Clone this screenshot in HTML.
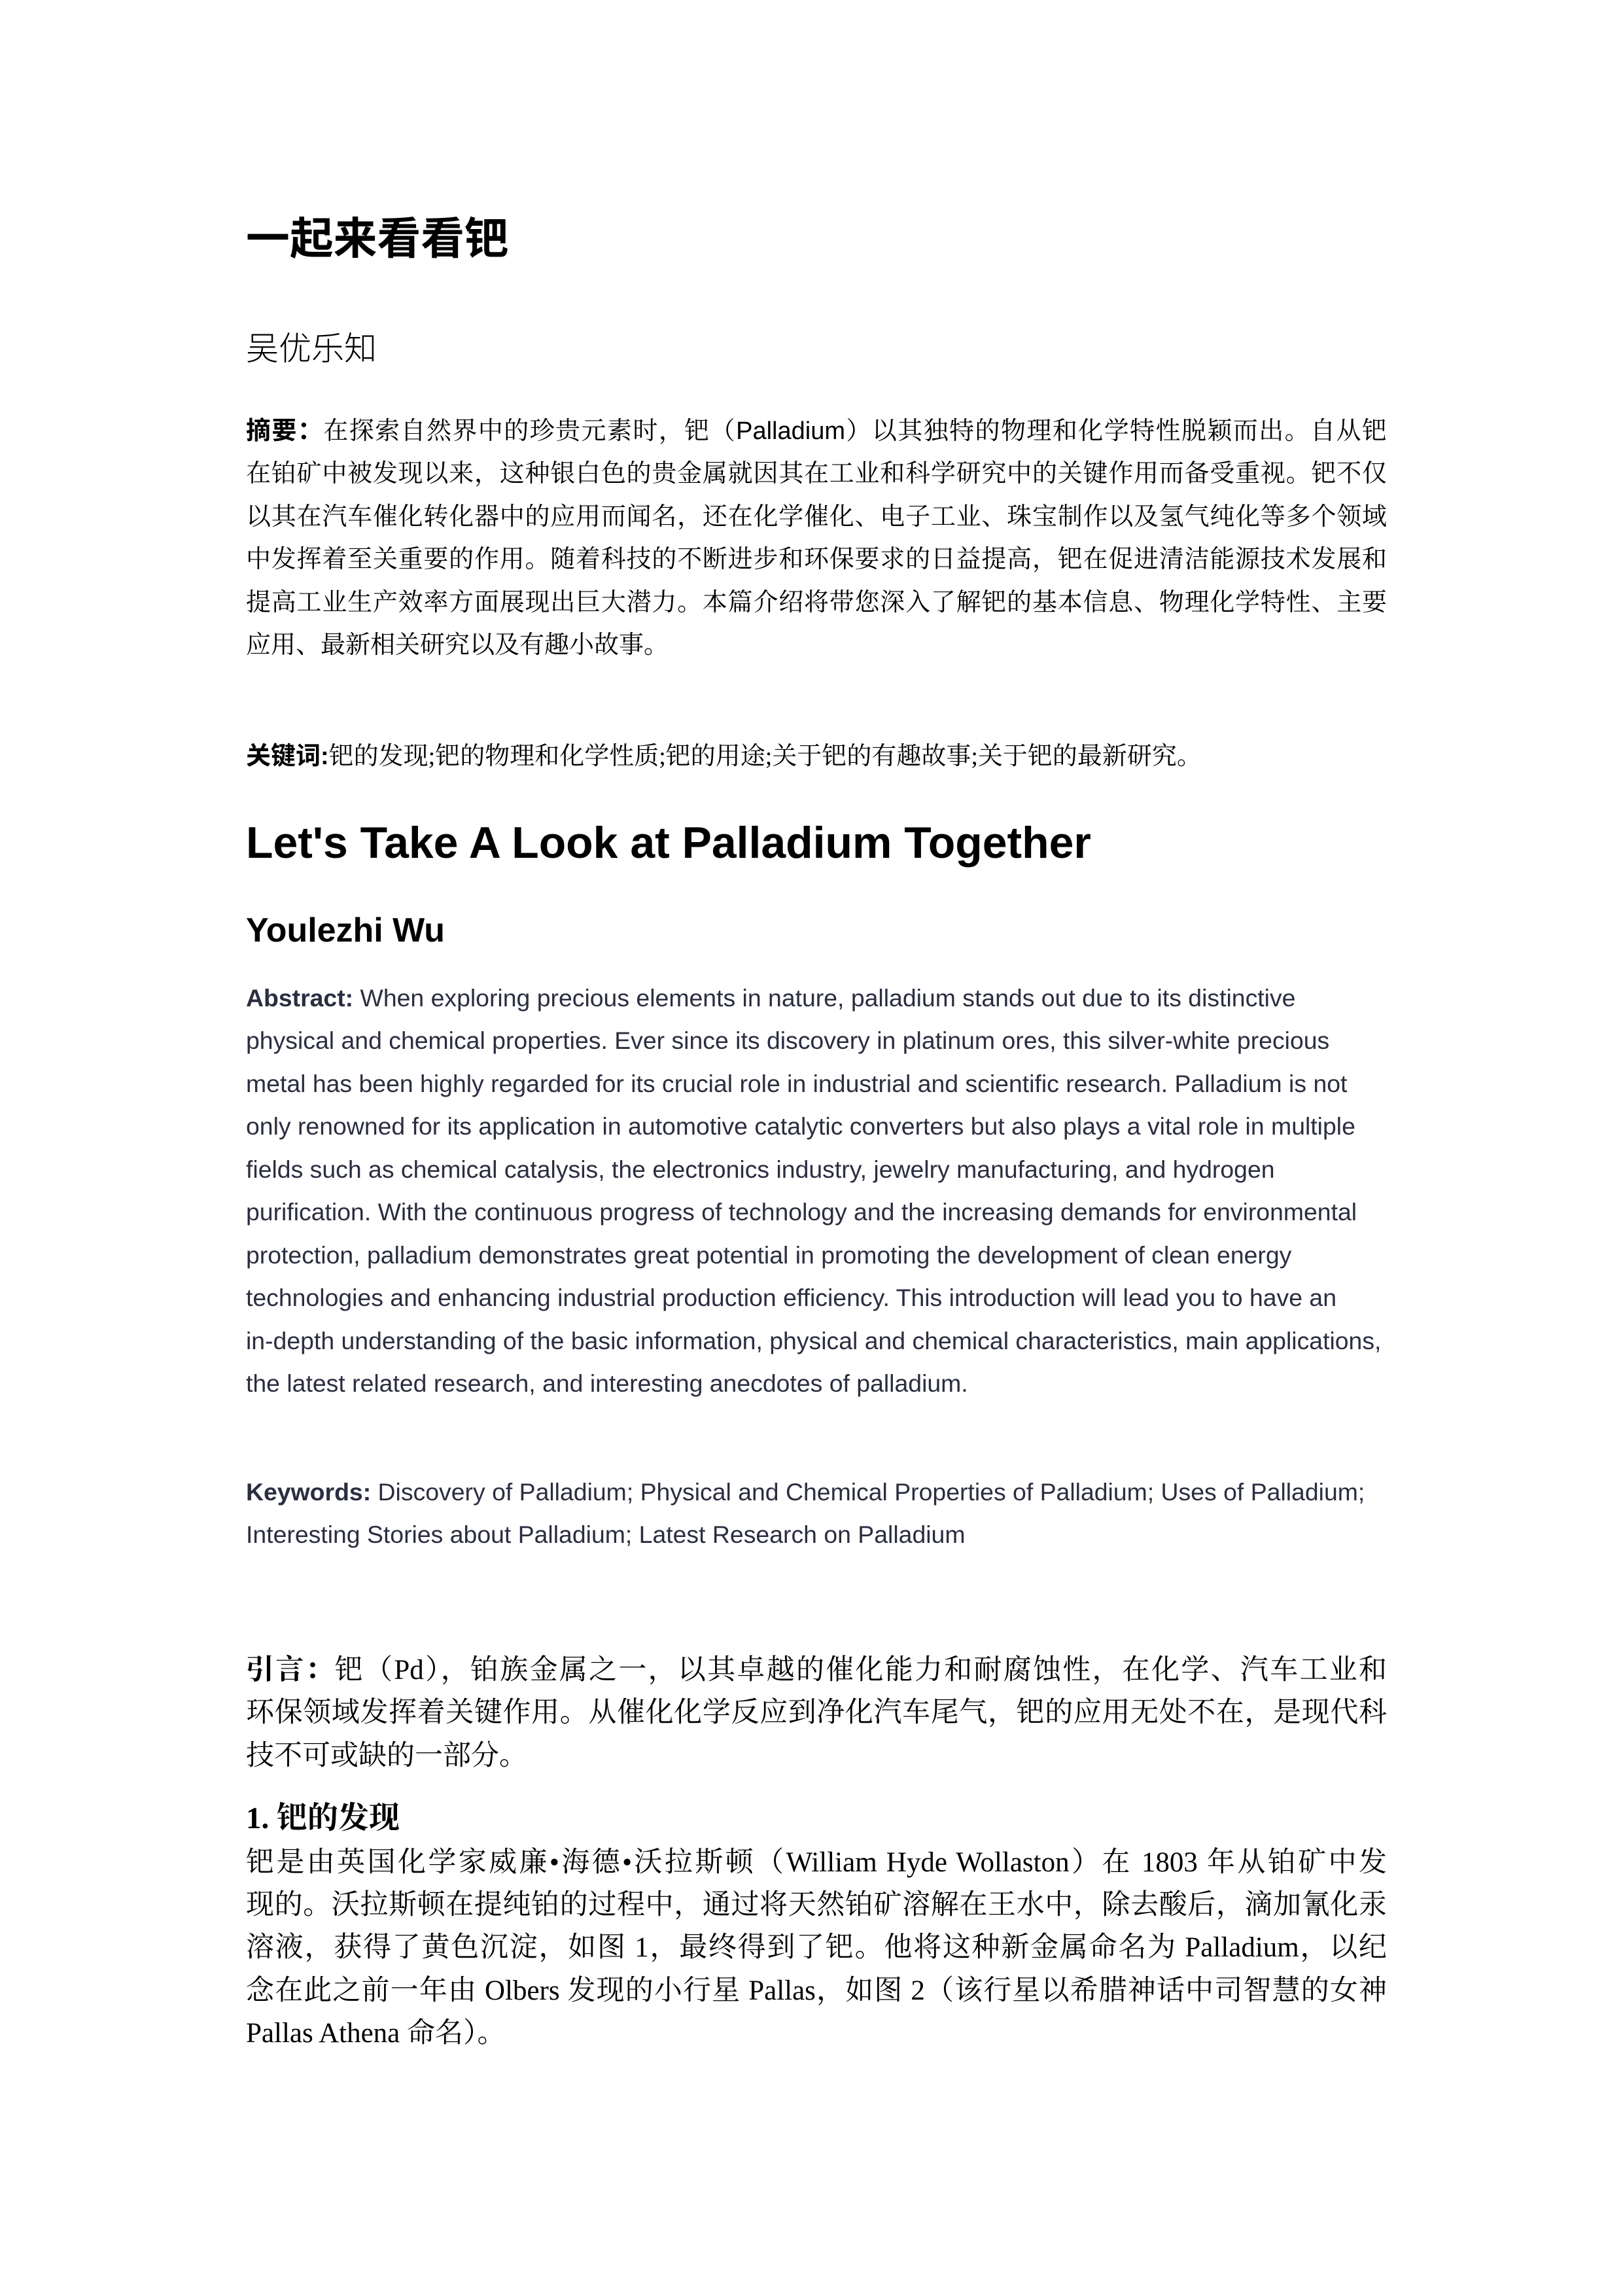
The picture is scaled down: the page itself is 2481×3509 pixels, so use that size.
<!DOCTYPE html>
<html><head><meta charset="utf-8">
<style>
html,body{margin:0;padding:0;background:#fff;}
body{width:2481px;height:3509px;position:relative;overflow:hidden;}
.l{position:absolute;left:376px;white-space:nowrap;height:60px;line-height:60px;}
.j{width:1744px;text-align:justify;text-align-last:justify;}
.cn{font-family:"Liberation Serif","Noto Serif CJK SC",serif;color:#000;}
.sans{font-family:"Liberation Sans","Noto Sans CJK SC",sans-serif;}
.en{font-family:"Liberation Sans",sans-serif;color:#2b2d40;font-size:37.4px;}
.ab{font-size:38px;}
.bd{font-size:43px;}
b{font-weight:bold;}
</style></head>
<body>
<div class="l sans" data-w="401" style="top:336px;font-size:66px;font-weight:bold;color:#000;">一起来看看钯</div>
<div class="l cn" data-w="200" style="top:503px;font-size:50px;font-family:'Liberation Sans','Noto Sans CJK SC',sans-serif;font-weight:300;">吴优乐知</div>

<div>
<div class="l cn ab j" style="top:629px;"><b class="sans">摘要：</b>在探索自然界中的珍贵元素时，钯（<span class="sans">Palladium</span>）以其独特的物理和化学特性脱颖而出。自从钯</div>
<div class="l cn ab j" style="top:694px;">在铂矿中被发现以来，这种银白色的贵金属就因其在工业和科学研究中的关键作用而备受重视。钯不仅</div>
<div class="l cn ab j" style="top:760px;">以其在汽车催化转化器中的应用而闻名，还在化学催化、电子工业、珠宝制作以及氢气纯化等多个领域</div>
<div class="l cn ab j" style="top:825px;">中发挥着至关重要的作用。随着科技的不断进步和环保要求的日益提高，钯在促进清洁能源技术发展和</div>
<div class="l cn ab j" style="top:891px;">提高工业生产效率方面展现出巨大潜力。本篇介绍将带您深入了解钯的基本信息、物理化学特性、主要</div>
<div class="l cn ab" style="top:956px;">应用、最新相关研究以及有趣小故事。</div>
</div>
<div class="l cn ab" style="top:1126px;"><b class="sans">关键词:</b>钯的发现;钯的物理和化学性质;钯的用途;关于钯的有趣故事;关于钯的最新研究。</div>

<div class="l sans" data-w="1292" style="top:1259px;font-size:66px;font-weight:bold;color:#000;">Let's Take A Look at Palladium Together</div>
<div class="l sans" data-w="304" style="top:1392px;font-size:48px;font-weight:bold;color:#000;">Youlezhi Wu</div>

<div>
<div class="l en" style="top:1495px;"><b>Abstract:</b> When exploring precious elements in nature, palladium stands out due to its distinctive</div>
<div class="l en" style="top:1560px;">physical and chemical properties. Ever since its discovery in platinum ores, this silver-white precious</div>
<div class="l en" style="top:1626px;">metal has been highly regarded for its crucial role in industrial and scientific research. Palladium is not</div>
<div class="l en" style="top:1691px;">only renowned for its application in automotive catalytic converters but also plays a vital role in multiple</div>
<div class="l en" style="top:1757px;">fields such as chemical catalysis, the electronics industry, jewelry manufacturing, and hydrogen</div>
<div class="l en" style="top:1822px;">purification. With the continuous progress of technology and the increasing demands for environmental</div>
<div class="l en" style="top:1888px;">protection, palladium demonstrates great potential in promoting the development of clean energy</div>
<div class="l en" style="top:1953px;">technologies and enhancing industrial production efficiency. This introduction will lead you to have an</div>
<div class="l en" style="top:2019px;">in-depth understanding of the basic information, physical and chemical characteristics, main applications,</div>
<div class="l en" style="top:2084px;">the latest related research, and interesting anecdotes of palladium.</div>
</div>
<div>
<div class="l en" style="top:2250px;"><b>Keywords:</b> Discovery of Palladium; Physical and Chemical Properties of Palladium; Uses of Palladium;</div>
<div class="l en" style="top:2315px;">Interesting Stories about Palladium; Latest Research on Palladium</div>
</div>

<div>
<div class="l cn bd j" style="top:2523px;"><b>引言：</b>钯（Pd），铂族金属之一，以其卓越的催化能力和耐腐蚀性，在化学、汽车工业和</div>
<div class="l cn bd j" style="top:2588px;">环保领域发挥着关键作用。从催化化学反应到净化汽车尾气，钯的应用无处不在，是现代科</div>
<div class="l cn bd" style="top:2654px;">技不可或缺的一部分。</div>
</div>
<div class="l cn" style="top:2749px;font-size:47px;font-weight:bold;">1. 钯的发现</div>
<div>
<div class="l cn bd j" style="top:2817px;">钯是由英国化学家威廉•海德•沃拉斯顿（William Hyde Wollaston）在 1803 年从铂矿中发</div>
<div class="l cn bd j" style="top:2882px;">现的。沃拉斯顿在提纯铂的过程中，通过将天然铂矿溶解在王水中，除去酸后，滴加氰化汞</div>
<div class="l cn bd j" style="top:2947px;">溶液，获得了黄色沉淀，如图 1，最终得到了钯。他将这种新金属命名为 Palladium，以纪</div>
<div class="l cn bd j" style="top:3013px;">念在此之前一年由 Olbers 发现的小行星 Pallas，如图 2（该行星以希腊神话中司智慧的女神</div>
<div class="l cn bd" style="top:3078px;">Pallas Athena 命名）。</div>
</div>
<script>
document.querySelectorAll('[data-w]').forEach(function(el){
  var target=parseFloat(el.getAttribute('data-w'));
  var fs=parseFloat(getComputedStyle(el).fontSize);
  var r=document.createRange();r.selectNodeContents(el);
  var w=r.getBoundingClientRect().width;
  if(w>0){el.style.fontSize=(fs*target/w)+'px';}
});
</script>
</body></html>
